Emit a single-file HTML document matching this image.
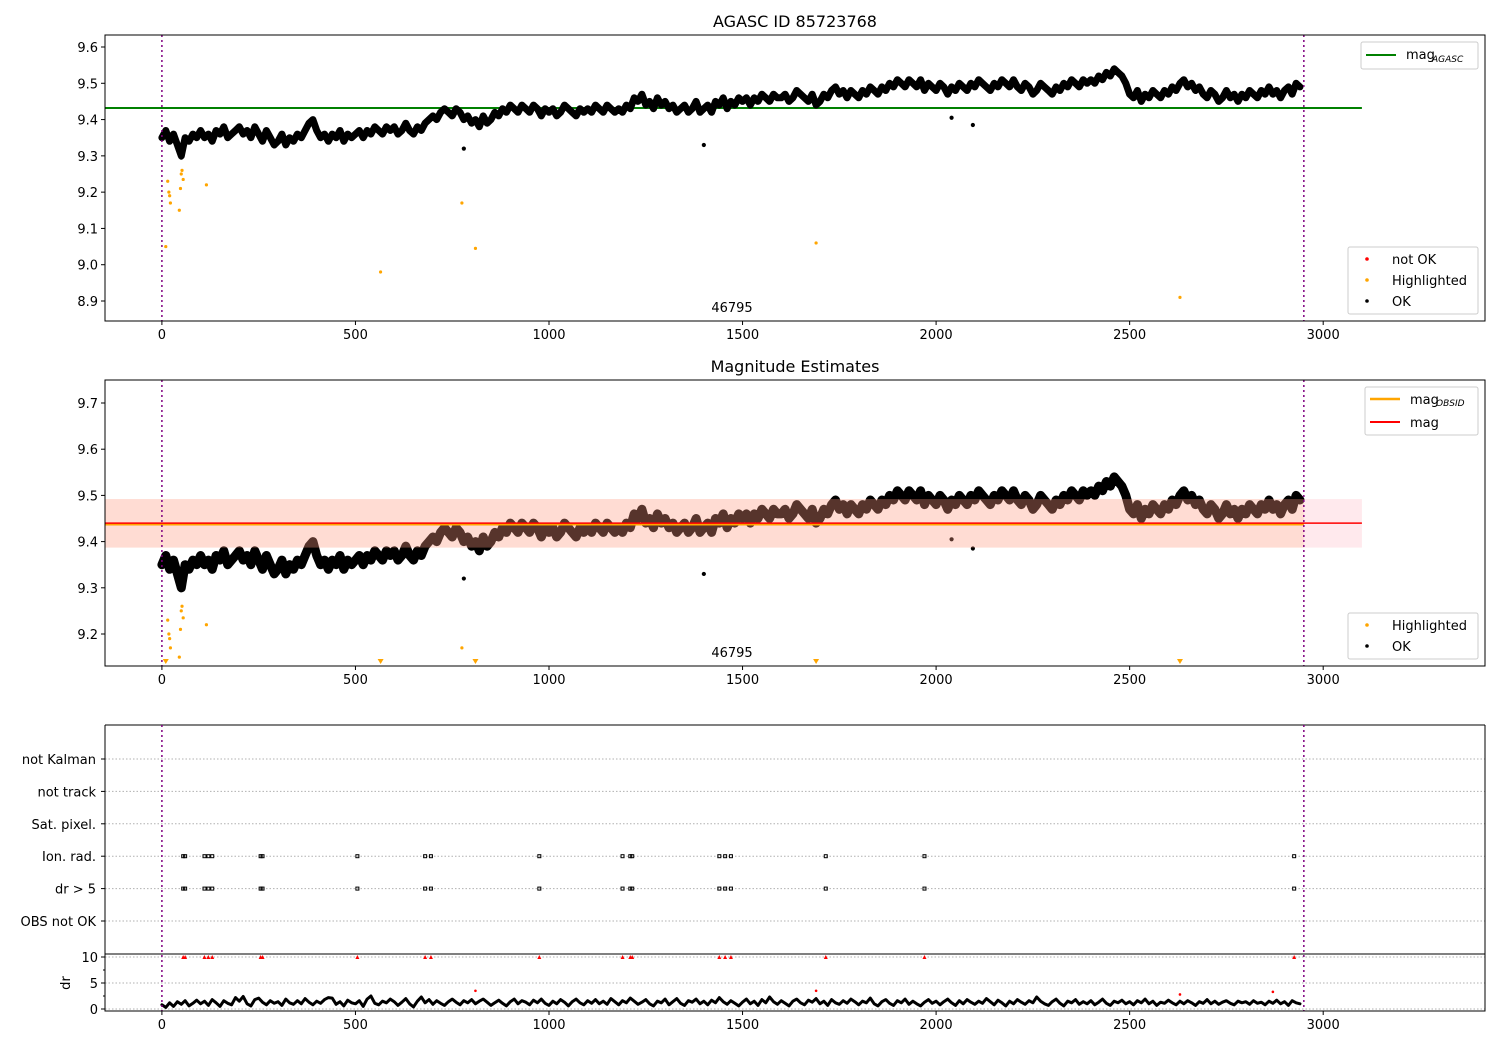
<!DOCTYPE html>
<html><head><meta charset="utf-8"><style>
body{margin:0;background:#fff;font-family:"Liberation Sans","DejaVu Sans",sans-serif}
svg text{font-family:"DejaVu Sans","Liberation Sans",sans-serif}
</style></head><body>
<svg id="c" width="1500" height="1050" xmlns="http://www.w3.org/2000/svg"></svg>
<script>
const mags=[9.35,9.37,9.34,9.36,9.33,9.30,9.35,9.34,9.36,9.35,
9.37,9.35,9.36,9.34,9.37,9.36,9.38,9.35,9.36,9.37,
9.38,9.36,9.37,9.35,9.38,9.36,9.34,9.37,9.35,9.33,
9.34,9.36,9.33,9.35,9.34,9.36,9.35,9.37,9.39,9.40,
9.37,9.35,9.36,9.34,9.36,9.35,9.37,9.34,9.36,9.35,
9.36,9.37,9.35,9.37,9.36,9.38,9.37,9.36,9.38,9.37,
9.38,9.36,9.37,9.39,9.37,9.36,9.38,9.37,9.39,9.40,
9.41,9.40,9.42,9.43,9.42,9.41,9.43,9.42,9.40,9.41,
9.39,9.40,9.38,9.41,9.39,9.40,9.42,9.41,9.43,9.42,
9.44,9.43,9.42,9.44,9.43,9.42,9.44,9.43,9.41,9.43,
9.42,9.43,9.41,9.42,9.44,9.43,9.42,9.41,9.43,9.42,
9.43,9.42,9.44,9.43,9.42,9.44,9.43,9.42,9.43,9.42,
9.44,9.43,9.46,9.45,9.47,9.44,9.45,9.43,9.46,9.44,
9.45,9.43,9.44,9.42,9.43,9.44,9.42,9.43,9.45,9.42,
9.43,9.44,9.42,9.45,9.44,9.46,9.43,9.45,9.44,9.46,
9.45,9.46,9.44,9.46,9.45,9.47,9.46,9.45,9.47,9.46,
9.46,9.47,9.45,9.46,9.48,9.47,9.46,9.45,9.47,9.44,
9.45,9.47,9.46,9.48,9.49,9.47,9.48,9.46,9.48,9.47,
9.46,9.48,9.47,9.49,9.48,9.47,9.49,9.48,9.50,9.49,
9.51,9.50,9.49,9.51,9.50,9.49,9.51,9.48,9.50,9.49,
9.48,9.50,9.49,9.47,9.49,9.48,9.50,9.49,9.48,9.50,
9.49,9.51,9.50,9.49,9.48,9.50,9.49,9.51,9.50,9.49,
9.51,9.49,9.48,9.50,9.49,9.47,9.48,9.50,9.49,9.48,
9.47,9.49,9.48,9.50,9.49,9.51,9.50,9.49,9.51,9.50,
9.51,9.50,9.52,9.51,9.53,9.52,9.54,9.53,9.52,9.50,
9.47,9.46,9.48,9.45,9.47,9.46,9.48,9.47,9.46,9.48,
9.47,9.49,9.48,9.50,9.51,9.49,9.50,9.48,9.49,9.47,
9.46,9.48,9.47,9.45,9.46,9.48,9.46,9.47,9.45,9.47,
9.46,9.48,9.47,9.46,9.48,9.47,9.49,9.47,9.48,9.46,
9.48,9.49,9.47,9.50,9.49];
const magStep=10;
const outX=[50,780,1400,2040,2095];
const outY=[9.295,9.32,9.33,9.405,9.385];
const hiX=[10,15,18,20,22,45,48,50,52,55,115,565,775,810,1690,2630];
const hiY=[9.05,9.23,9.20,9.19,9.17,9.15,9.21,9.25,9.26,9.235,9.22,8.98,9.17,9.045,9.06,8.91];
const magAgasc=9.432, magObsid=9.437, magMean=9.44, magLo=9.387, magHi=9.492;
const flagX=[55,60,110,120,130,255,260,505,680,695,975,1190,1210,1215,1440,1455,1470,1715,1970,2925];
const drVals=[0.8,0.3,1.2,0.5,1.4,0.9,1.6,0.6,1.1,1.7,1.0,1.5,0.7,1.8,1.2,0.5,1.6,1.1,0.8,2.2,
1.5,2.4,1.0,0.6,1.8,2.1,1.3,0.8,1.6,1.1,1.4,0.7,1.9,1.2,0.9,1.6,1.0,2.0,1.3,0.8,
1.5,1.1,1.8,2.2,2.1,0.9,1.4,0.6,1.7,1.2,1.0,1.6,0.5,1.9,2.5,1.1,0.8,1.5,1.2,1.9,
1.4,0.7,1.3,2.0,1.0,0.4,1.5,2.3,1.2,1.8,0.9,1.6,1.1,0.7,1.4,1.9,1.3,0.8,1.6,1.2,
1.8,1.0,1.5,1.9,1.3,0.7,1.2,1.7,1.1,0.6,1.4,1.9,1.0,1.6,1.3,0.8,1.7,1.2,1.9,1.1,
0.7,1.5,1.0,1.8,1.3,0.6,1.4,1.9,1.2,0.8,1.6,1.1,1.8,1.0,1.5,0.9,2.0,1.4,0.8,1.6,
1.2,2.1,1.5,0.9,1.3,1.8,1.0,0.6,1.5,1.2,1.9,0.8,1.4,2.0,1.1,0.7,1.6,1.3,1.9,1.0,
1.5,0.8,1.7,1.2,2.2,1.4,0.9,1.6,1.1,0.6,1.3,1.9,1.0,1.5,0.7,1.8,1.2,2.3,1.4,0.9,
1.6,1.1,0.6,1.5,1.9,1.2,0.8,1.7,1.3,2.0,1.0,1.5,0.7,1.8,1.2,0.9,1.6,1.1,1.9,1.4,
0.8,1.5,1.2,2.1,1.0,0.6,1.4,1.8,1.1,0.7,1.6,1.2,1.9,0.9,1.5,1.0,0.6,1.3,1.8,1.1,
1.5,0.8,1.4,1.9,1.2,0.7,1.6,1.0,1.8,1.3,0.9,1.5,1.1,2.0,1.4,0.8,1.7,1.2,0.6,1.5,
1.0,1.8,1.3,0.9,1.6,1.2,2.3,1.5,1.0,0.7,1.4,1.9,1.1,0.6,1.5,1.2,1.8,0.9,1.4,1.0,
1.6,0.8,1.3,1.9,1.1,0.7,1.5,1.2,1.7,1.0,1.4,0.8,1.6,1.2,1.9,1.0,1.5,0.7,1.3,1.1,
1.7,1.2,0.8,1.5,1.0,1.6,1.2,0.7,1.4,1.1,1.8,1.0,1.5,0.9,1.3,1.6,1.1,0.8,1.5,1.2,
1.4,0.9,1.6,1.1,1.3,0.8,1.5,1.1,1.7,1.0,1.4,0.7,1.6,1.2,1.0];
const drRedX=[810,1690,2630,2870];
const drRedY=[3.5,3.5,2.8,3.3];
const xTicks=[0,500,1000,1500,2000,2500,3000];
const y1Ticks=[8.9,9.0,9.1,9.2,9.3,9.4,9.5,9.6];
const y2Ticks=[9.2,9.3,9.4,9.5,9.6,9.7];
const flagLabels=["OBS not OK","dr > 5","Ion. rad.","Sat. pixel.","not track","not Kalman"];
const drTicks=[0,5,10];

const S=document.getElementById('c');const NS='http://www.w3.org/2000/svg';
function el(t,a,p){const e=document.createElementNS(NS,t);for(const k in a)e.setAttribute(k,a[k]);(p||S).appendChild(e);return e;}
const X0=105,X1=1485,xmin=-147,xmax=3418;
const sx=v=>X0+(v-xmin)/(xmax-xmin)*(X1-X0);
function lin(d0,d1,p0,p1){return v=>p0+(v-d0)/(d1-d0)*(p1-p0);}
const y1=lin(9.6,8.9,47,301), y2=lin(9.7,9.2,403,634), yf=lin(0,5,921,759), yd=lin(0,10,1009,957);

function txt(x,y,s,anchor,size,name){const t=el('text',{x:x,y:y,'text-anchor':anchor||'middle','font-size':size||13,fill:'#000'});t.textContent=s;return t;}
function xaxis(yb,pfx){xTicks.forEach(v=>{el('line',{x1:sx(v),x2:sx(v),y1:yb,y2:yb+4,stroke:'#000'});txt(sx(v),yb+18,String(v),'middle',13,pfx+'-x-tick-'+v);});}
function box(t,b,name){const r=el('rect',{x:X0,y:t,width:X1-X0,height:b-t,fill:'none',stroke:'#000','stroke-width':1});}
function vlines(t,b){[0,2950].forEach(v=>el('line',{x1:sx(v),x2:sx(v),y1:t,y2:b,stroke:'#800080','stroke-width':1.5,'stroke-dasharray':'2,3'}));}
function dot(x,y,r,c,name){const d=el('circle',{cx:x,cy:y,r:r,fill:c});return d;}
function series(g,yf_,vals,w,name){const pts=vals.map((m,i)=>sx(i*magStep).toFixed(1)+','+yf_(m).toFixed(1)).join(' ');const p=el('polyline',{points:pts,fill:'none',stroke:'#000','stroke-width':w,'stroke-linejoin':'round','stroke-linecap':'round'},g);}

const defs=el('defs',{});
[[35,321,'c1'],[380,666,'c2'],[954,1011,'c3']].forEach(a=>{const cp=el('clipPath',{id:a[2]},defs);el('rect',{x:X0,y:a[0],width:X1-X0,height:a[1]-a[0]},cp);});

// ---- Panel 1
txt(795,27,'AGASC ID 85723768','middle',16,'panel1-title');
const g1=el('g',{'clip-path':'url(#c1)'});
el('line',{x1:X0,x2:sx(3100),y1:y1(magAgasc),y2:y1(magAgasc),stroke:'#008000','stroke-width':2},g1);
series(g1,y1,mags,7,'ok-series');
outX.forEach((x,i)=>{g1.appendChild(dot(sx(x),y1(outY[i]),2.1,'#000','ok-outlier'));});
hiX.forEach((x,i)=>{g1.appendChild(dot(sx(x),y1(hiY[i]),1.6,'#ffa500','highlighted-point'));});
vlines(35,321);
box(35,321,'panel1-axes');
y1Ticks.forEach(v=>{el('line',{x1:X0-4,x2:X0,y1:y1(v),y2:y1(v),stroke:'#000'});txt(X0-7,y1(v)+5,v.toFixed(1),'end',13,'panel1-y-tick');});
xaxis(321,'panel1');
txt(732,312,'46795','middle',13,'panel1-obsid-label');
el('rect',{x:1361,y:42,width:117,height:27,fill:'#fff',stroke:'#ccc',rx:2});
el('line',{x1:1366,x2:1396,y1:55,y2:55,stroke:'#008000','stroke-width':2});
txt(1406,59,'mag','start',13,'legend-mag-agasc');txt(1432,62,'AGASC','start',9,'legend-agasc-sub').setAttribute('font-style','italic');
el('rect',{x:1348,y:247,width:130,height:67,fill:'#fff',stroke:'#ccc',rx:2});
[['not OK','#f00',260],['Highlighted','#ffa500',281],['OK','#000',302]].forEach(a=>{dot(1367,a[2]-1,1.8,a[1],'legend-marker');txt(1392,a[2]+4,a[0],'start',13,'legend-entry');});

// ---- Panel 2
txt(795,372,'Magnitude Estimates','middle',16,'panel2-title');
const g2=el('g',{'clip-path':'url(#c2)'});
series(g2,y2,mags,9,'ok-series');
outX.forEach((x,i)=>{g2.appendChild(dot(sx(x),y2(outY[i]),2.1,'#000','ok-outlier'));});
hiX.forEach((x,i)=>{g2.appendChild(dot(sx(x),y2(hiY[i]),1.6,'#ffa500','highlighted-point'));
 if(hiY[i]<9.131){const px=sx(x),py=664;el('polygon',{points:`${px-3},${py-5} ${px+3},${py-5} ${px},${py}`,fill:'#ffa500'},g2);}});
el('rect',{x:X0,y:y2(magHi),width:sx(3100)-X0,height:y2(magLo)-y2(magHi),fill:'#ff8fa3','fill-opacity':0.2},g2);
el('rect',{x:X0,y:y2(magHi),width:sx(2950)-X0,height:y2(magLo)-y2(magHi),fill:'#ffa060','fill-opacity':0.18},g2);
el('line',{x1:X0,x2:sx(2950),y1:y2(magObsid),y2:y2(magObsid),stroke:'#ffa500','stroke-width':2},g2);
el('line',{x1:X0,x2:sx(3100),y1:y2(magMean),y2:y2(magMean),stroke:'#f00','stroke-width':1.5},g2);
vlines(380,666);
box(380,666,'panel2-axes');
y2Ticks.forEach(v=>{el('line',{x1:X0-4,x2:X0,y1:y2(v),y2:y2(v),stroke:'#000'});txt(X0-7,y2(v)+5,v.toFixed(1),'end',13,'panel2-y-tick');});
xaxis(666,'panel2');
txt(732,657,'46795','middle',13,'panel2-obsid-label');
el('rect',{x:1365,y:387,width:113,height:48,fill:'#fff',stroke:'#ccc',rx:2});
el('line',{x1:1370,x2:1400,y1:399,y2:399,stroke:'#ffa500','stroke-width':2.5});
txt(1410,404,'mag','start',13,'legend-mag-obsid');txt(1436,406,'OBSID','start',9,'legend-obsid-sub').setAttribute('font-style','italic');
el('line',{x1:1370,x2:1400,y1:422,y2:422,stroke:'#f00','stroke-width':2});
txt(1410,427,'mag','start',13,'legend-mag');
el('rect',{x:1348,y:613,width:130,height:46,fill:'#fff',stroke:'#ccc',rx:2});
[['Highlighted','#ffa500',626],['OK','#000',647]].forEach(a=>{dot(1367,a[2]-1,1.8,a[1],'legend-marker');txt(1392,a[2]+4,a[0],'start',13,'legend-entry');});

// ---- Panel 3 flags
flagLabels.forEach((l,i)=>{el('line',{x1:X0,x2:X1,y1:yf(i),y2:yf(i),stroke:'#b0b0b0','stroke-dasharray':'1.5,2'});el('line',{x1:X0-4,x2:X0,y1:yf(i),y2:yf(i),stroke:'#000'});txt(X0-9,yf(i)+5,l,'end',13,'flag-label');});
flagX.forEach(x=>{[1,2].forEach(r=>{const q=el('rect',{x:sx(x)-1.5,y:yf(r)-1.5,width:3,height:3,fill:'none',stroke:'#000','stroke-width':1});});});
el('line',{x1:X0,x2:X0,y1:725,y2:954,stroke:'#000'});el('line',{x1:X1,x2:X1,y1:725,y2:954,stroke:'#000'});el('line',{x1:X0,x2:X1,y1:725,y2:725,stroke:'#000'});
const g3=el('g',{'clip-path':'url(#c3)'});
drTicks.forEach(v=>el('line',{x1:X0,x2:X1,y1:yd(v),y2:yd(v),stroke:'#b0b0b0','stroke-dasharray':'1.5,2'},g3));
series(g3,yd,drVals,3,'dr-series');
drRedX.forEach((x,i)=>g3.appendChild(dot(sx(x),yd(drRedY[i]),1.3,'#f00','dr-red-point')));
flagX.forEach(x=>{const px=sx(x),py=yd(10);const p=el('polygon',{points:`${px-2},${py+2} ${px+2},${py+2} ${px},${py-2}`,fill:'#f00'},g3);});
vlines(725,1011);
el('rect',{x:X0,y:954,width:X1-X0,height:57,fill:'none',stroke:'#000'});
drTicks.forEach(v=>{el('line',{x1:X0-4,x2:X0,y1:yd(v),y2:yd(v),stroke:'#000'});txt(X0-7,yd(v)+5,String(v),'end',13,'dr-y-tick');});
[2.5,7.5].forEach(v=>el('line',{x1:X0-2,x2:X0,y1:yd(v),y2:yd(v),stroke:'#000'}));
const dl=txt(70,983,'dr','middle',13,'dr-axis-title');dl.setAttribute('transform','rotate(-90 70 983)');
xaxis(1011,'panel3');
</script>
</body></html>
